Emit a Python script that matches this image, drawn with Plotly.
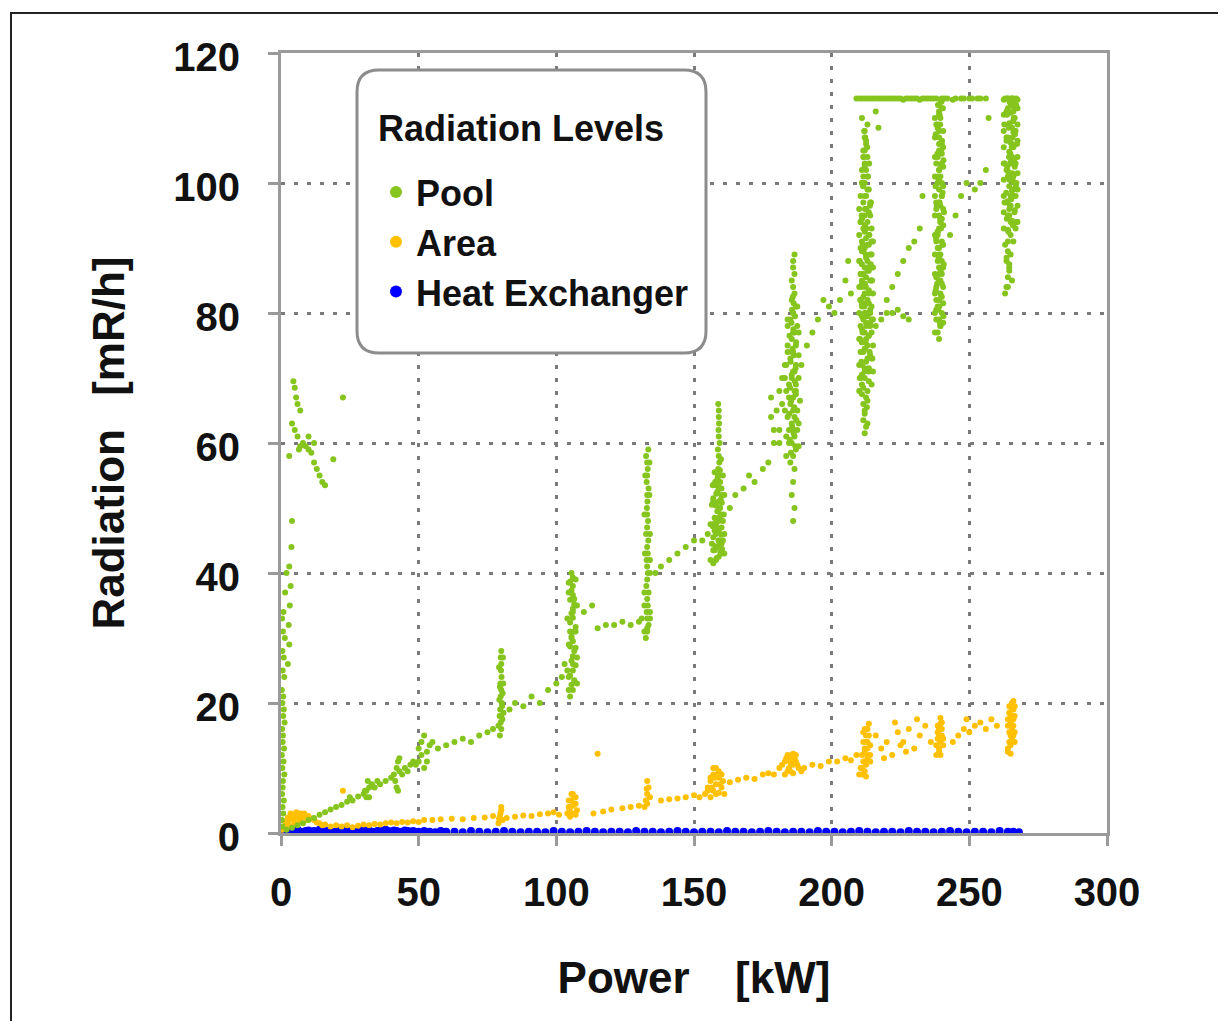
import plotly.graph_objects as go

# ---------------- data ----------------
pool_power = [
    0.5, 0.8, 1.0, 0.6, 1.2, 0.9, 1.1, 0.7, 1.3, 1.0, 0.8, 1.2, 1.0, 1.4, 0.9, 1.5, 2.0,
    2.5, 3.0, 2.8, 3.2, 3.5, 3.0, 3.8, 4.0,
    4.5, 5.0, 5.5, 6.0, 7.0, 4.0, 5.0, 6.0, 8.0, 7.0, 9.0, 10.0, 11.0, 12.0, 13.0, 14.0, 15.0,
    16.0, 12.0, 19.0, 22.5, 3.0, 6.5, 10.0,
    2, 4, 6, 8, 10, 12, 14, 16, 18, 20, 22, 24, 25, 26, 28, 30, 31, 32, 33, 32, 34, 35, 36, 38,
    40, 41, 42, 42.5, 43, 43, 42, 44, 45, 46, 47, 48, 49, 50, 50, 51, 51, 52, 52, 53, 54, 55, 53,
    31, 31.5, 30.5, 42.5, 41.5,
    57, 60, 63, 66, 69, 72, 75, 77,
    79.5, 80, 79.8, 80, 79.6, 80.2, 79.8, 80, 79.7, 80.1, 79.9, 80, 79.8, 80, 80.3, 79.5, 80.4,
    83, 85, 88, 91, 94, 97, 100, 102, 103,
    105, 106, 105.5, 106.5, 105, 106, 107, 105.5, 106, 106.5, 105, 106, 105.5, 106.5, 107, 105,
    106, 105.5, 106, 106.5, 105, 106, 105.5, 106, 105, 106, 105.5, 106, 105.5, 106,
    110, 113, 115, 118, 121, 124, 127, 130, 131,
    132.5, 133, 133.5, 133, 132.8, 133.2, 133, 133.5, 132.7, 133, 133.3, 133, 132.8, 133.2, 133,
    133.4, 132.6, 133, 133.3, 133, 132.9, 133.1, 133, 133.5, 132.8, 133, 133.2, 133, 132.6, 133.4,
    134, 133,
    136, 138, 141, 144, 147, 150, 153, 155,
    157, 158, 159, 160, 157.5, 158.5, 159.5, 160.5, 157, 158, 159, 160, 158, 159, 157.5, 160,
    158.5, 159.5, 158, 159, 157, 160, 158.5, 159, 158, 159.5, 158.5, 159, 158.8, 159.2, 159,
    158.7, 159.3, 159, 158.9, 159.1, 159, 159, 158.8, 159.2,
    163, 165, 168, 170, 172, 175, 177, 179, 181, 178, 182, 183,
    179, 180, 181, 182, 183, 178, 184, 181,
    186, 186.5, 185.5, 186, 186.5, 185, 186, 187, 185.5, 186.5, 184.5, 185.5, 186.5, 187.5, 185,
    186, 187, 184.5, 185.5, 186.5, 187, 185, 186, 187, 185.5, 186.5, 184, 185, 186, 187, 185.5,
    186.5, 186, 185.5, 186.5, 186, 186, 186.5, 186, 186, 186.5, 186, 185.5, 186, 186,
    189, 191, 193, 195, 197, 199, 201, 203, 205, 207, 206,
    212, 213, 212, 211.5, 212.5, 213, 211, 212, 213.5, 212, 211, 212.5, 213, 214, 211.5, 212,
    213, 211, 212.5, 213.5, 212, 211, 214, 212.5, 211.5, 213, 212, 214, 211, 212.5, 213, 211.5,
    212, 213.5, 211, 212, 214, 212.5, 211.5, 213, 212, 211, 213, 212.5, 214, 211.5, 212, 213,
    211, 212.5, 213.5, 212, 211.5, 213, 212, 212.5, 211.5, 212, 213, 212, 211.5, 212.5, 212, 211.5,
    212, 212.5, 212, 212, 214, 211,
    209, 211, 213, 215, 217, 219, 221, 223, 226, 229, 232, 235, 238, 241, 244, 247, 250, 253, 256,
    211, 213, 216, 217,
    216, 218, 220, 222, 224, 226, 228, 220, 222, 224, 226, 228, 230, 232, 233,
    239, 238.5, 239.5, 239, 240, 238.5, 239, 239.5, 238, 239, 240, 239, 238.5, 239.5, 239, 240,
    238.5, 239, 239.5, 239, 238, 239, 240, 239, 238.5, 239.5, 239, 240, 238.5, 239, 239.5, 239,
    239, 238.5, 239.5, 239, 239, 239.5, 238, 240, 239, 238.5, 239.5, 239, 240, 238.5, 239, 239.5,
    239, 238.5, 240, 239, 238, 239.5, 239,
    243, 245, 247, 249, 252, 254, 256, 257,
    265, 264, 266, 265.5, 264.5, 266.5, 265, 264, 266, 265.5, 264.5, 266, 265, 264, 266.5, 265,
    265.5, 264.5, 266, 265, 264, 266, 265.5, 264.5, 266.5, 265, 264, 266, 265.5, 265, 264.5, 266,
    265, 265.5, 264.5, 266, 265, 264, 266.5, 265, 263, 263.5, 264, 264.5, 263.5, 264, 263, 264.5,
    264, 263.5,
]
pool_rad = [
    1, 3, 5, 7, 9, 11, 13, 15, 17, 19, 21, 24, 27, 30, 34, 37, 40,
    26, 29, 32, 35, 38, 41, 44, 48,
    69.5, 68.5, 67, 66, 65, 63, 62, 61, 60, 59.5, 59.5, 59, 58.5, 57, 56, 55, 54,
    53.5, 60, 57.5, 67, 58, 59, 61,
    0.5, 0.8, 1.2, 1.5, 2, 2.3, 2.8, 3.2, 3.6, 4, 4.3, 4.8, 5.5, 5, 5.6, 6, 6.5, 7, 7.5, 5.5, 7, 8, 7.5, 8,
    8.5, 9, 10, 11, 11.5, 9.5, 7, 9, 10, 9.5, 10.5, 11, 10.5, 11, 13, 12, 14, 15, 10, 12.5, 13.5, 14, 11,
    5.5, 8, 6.5, 6.5, 8,
    13, 13.5, 14, 14.5, 14, 15, 15.5, 16,
    15, 16, 17, 18, 19, 20, 21, 22, 23, 24, 25, 26, 27, 28, 19.5, 22.5, 17.5,
    19, 20, 19.5, 21, 20, 22, 23, 24, 26,
    21, 22, 22.8, 23.5, 24.2, 25, 25.8, 26.5, 27.2, 28, 28.7, 29.5, 30.2, 31, 31.7, 32.4,
    33.1, 33.8, 34.5, 35.2, 35.9, 36.6, 37.3, 38, 38.7, 39.3, 40, 26, 30, 34,
    34, 35, 31.5, 32, 32, 32.5, 32, 32.5, 33,
    30, 31, 32, 33, 34, 35, 36, 37, 38, 39, 40, 41, 42, 43, 44,
    45, 46, 47, 48, 49, 50, 51, 52, 53, 54, 55, 56, 57, 58, 59,
    33, 31.5,
    40, 41, 42, 43, 44, 45, 45, 46,
    41.5, 42, 42.5, 43, 43.5, 44, 44.5, 45, 45.5, 46, 46.5, 47, 47.5, 48, 48.5, 49,
    49.5, 50, 50.5, 51, 51.5, 52, 52.5, 53, 53.5, 54, 54.5, 55, 56, 57, 58,
    59, 60, 61, 62, 63, 64, 65, 66, 45,
    50, 52, 53, 55, 54, 56, 57, 60, 62, 64, 66, 70,
    62, 65, 68, 70, 72, 67, 64, 60,
    48, 50, 52, 54, 56, 57, 58, 59, 60, 61, 62, 63, 64, 65, 66,
    67, 68, 69, 70, 71, 72, 73, 74, 75, 76, 77, 78, 79, 80, 81, 82,
    83, 84, 85, 86, 87, 88, 89, 62, 65, 68, 71, 74, 77, 80,
    72, 75, 77, 79, 82, 81, 80, 82, 85, 83, 88,
    61.5, 63, 64.5, 66, 67, 68, 69, 70, 71, 71.5, 72, 72.5, 73, 73.5, 74, 74.5,
    75, 75.5, 76, 76.5, 77, 77.5, 78, 78.5, 79, 79.5, 80, 80.5, 81, 81.5, 82, 82.5,
    83, 83.5, 84, 84.5, 85, 85.5, 86, 86.5, 87, 87.5, 88, 88.5, 89, 89.5, 90, 90.5,
    91, 91.5, 92, 92.5, 93, 94, 95, 96, 97, 98, 99, 100, 101, 102, 103, 104,
    105, 106, 107, 108, 80, 85,
    113, 113, 113, 113, 113, 113, 113, 113, 112.8, 113, 112.8, 113, 113, 113, 112.8, 113, 113, 113, 113,
    110, 109, 111, 108.5,
    78, 79, 80, 80, 80.5, 79.5, 79, 82, 84, 86, 88, 90, 91, 93, 98,
    76, 77, 78, 79, 80, 81, 82, 83, 84, 85, 86, 87, 88, 89, 90, 91,
    92, 93, 94, 95, 96, 97, 98, 99, 100, 101, 102, 103, 104, 105, 106, 107,
    108, 109, 110, 111, 112, 112.8, 80.5, 84.5, 88.5, 92.5, 96.5, 100.5, 104.5, 108.5,
    86, 94, 102, 90, 98, 106, 82, 78, 110.5,
    92, 95, 98, 100, 99, 100, 102, 110,
    92, 92.8, 93.5, 94.2, 95, 95.8, 96.5, 97.2, 98, 98.8, 99.5, 100.2, 101, 101.8, 102.5, 103.2,
    104, 104.8, 105.5, 106.2, 107, 107.8, 108.5, 109.2, 110, 110.8, 111.5, 112.2, 113, 112.5, 96, 99,
    103, 106, 109, 111, 94, 101, 108, 112, 83, 84, 85.5, 87, 88, 89.5, 90.5, 86.5,
    91, 88.5,
]

# extra points that thicken the dense vertical streaks of the Pool series
pool_dense_power = [
    0.3, 0.6, 0.4, 0.7, 0.5, 0.3, 0.6, 0.4, 0.8, 0.5, 0.3, 0.6, 0.5, 0.7, 0.4,
    79, 80.8, 79.3, 80.7, 79.2, 80.6, 79.4, 80.5,
    104.5, 107.5, 104, 107.5, 104.5, 107, 104, 107.5, 104.5, 107, 104.5, 107, 105, 106.5, 104.5,
    132, 134, 132, 134, 132.2, 134, 132, 133.8, 132.3, 133.8, 132, 134,
    156, 161, 156.5, 161, 156, 160.8, 156.5, 161, 156.8, 160.5, 157, 160, 157.5, 160.5, 157, 160,
    157.5, 159.8,
    183.5, 188, 183.5, 188, 183, 188.5, 183.5, 188, 183.5, 188, 184, 188, 184, 187.5, 184.5, 187.5,
    184.5, 187, 184, 187.5,
    210, 214.5, 210.5, 215, 210, 214.5, 210.5, 215, 210, 214.5, 210.5, 215, 210, 214.5, 210.5, 215,
    210, 214.5, 210.5, 215, 210, 214.5, 210.5, 215, 210, 214.5, 210.5, 214, 210, 214, 210.5, 213.5,
    211, 213, 211, 213, 211.5, 212.5, 211, 213.5, 211, 213.5, 211, 213.5, 211, 213.5, 211, 213.5,
    211, 213.5, 212, 212.5, 211.5, 213,
    210, 212, 214, 216, 218, 220, 222, 224, 225, 227, 228, 230, 231, 233, 234, 236, 237, 240, 242,
    245, 248, 251, 254,
    237.5, 240.5, 237.5, 240.5, 237.5, 240.5, 237.5, 240.5, 237.5, 240.5, 237.5, 240.5, 237.5, 240.5,
    237.5, 240.5, 237.5, 240.5, 237.5, 240.5, 237.5, 240.5, 237.5, 240, 238, 240, 238, 240, 238, 240,
    238, 240, 238, 240, 238,
    262.5, 267.5, 262.5, 267.5, 262.5, 267.5, 262.5, 267.5, 262.5, 267.5, 262.5, 267.5, 262.5, 267.5,
    262.5, 267.5, 262.5, 267.5, 263, 264, 266, 267, 263.5, 266.8, 263.5, 266.8, 263.5, 266.8, 263.5,
    266.8, 264, 265.5, 264.5, 265, 266,
    # second fill of the heaviest streaks
    211.5, 212.8, 211, 213.5, 212, 210.8, 213.8, 212.3, 211.2, 214, 212.6, 211, 213.4, 212, 210.6,
    214.2, 212.4, 211.3, 213.7, 212.1, 210.9, 213.9, 212.5, 211.4, 213.2, 212, 211.6, 212.9, 212.2,
    211.8, 210.2, 214.8, 210.3, 214.6, 210.4, 214.7, 210.2, 214.5, 210.5, 214.3, 211, 213.6, 212.2,
    212.7, 211.9, 212.4, 212.9, 211.7, 212.6, 212.1,
    239.3, 238.7, 239.8, 238.3, 239.6, 238.9, 240.2, 238.5, 239.4, 238.2, 240.3, 238.8, 239.7, 238.4,
    240.1, 238.6, 239.2, 239.9, 240.6, 237.8, 240.7, 237.9, 240.8, 237.7, 240.6, 237.8, 240.4, 239.1,
    239.5, 238.9, 239.7, 239.2, 238.7, 239.8, 239.4, 238.6,
    264.2, 265.8, 263.6, 266.4, 264.8, 265.2, 263.4, 266.9, 264.5, 265.6, 263.8, 266.2, 264.9, 265.4,
    263.5, 266.6, 264.3, 265.9, 263.7, 266.3, 264.6, 265.1, 267.2, 262.8, 267.1, 262.9, 267.3, 262.7,
    267, 264, 265, 266, 264.4, 265.7, 266.1, 263.9,
    185.2, 186.8, 184.8, 186.2, 185.7, 187.2, 184.6, 186.4, 185.3, 187, 184.9, 186.6, 185.5, 186.9,
    185.1, 186.3, 185.8, 187.1, 184.7, 186.1, 185.4, 186.7, 185.6, 186.2, 185.9,
    158.2, 159.6, 157.8, 158.9, 159.9, 158.4, 157.6, 159.3, 158.6, 157.9, 159.7, 158.1, 159.1, 157.7,
    158.7, 159.4, 160.2, 156.8, 160.1, 157.2,
]
pool_dense_rad = [
    2, 4, 6, 8, 10, 12, 14, 16, 18, 20, 22, 25, 28, 31, 33,
    16.5, 18.5, 20.5, 23, 25.5, 27, 18, 21.5,
    22, 23, 25, 27, 29, 31, 33, 35, 37, 39, 24, 28.5, 31, 36, 38.5,
    31, 34, 37, 40, 43, 46, 49, 52, 55, 57, 35, 42,
    42, 43, 44.5, 46, 47.5, 49, 50.5, 52, 53.5, 55, 43.5, 44.5, 46.5, 48, 51, 53,
    55.5, 57.5,
    58, 59.5, 61, 63, 65, 66.5, 68, 70, 72, 73.5, 75, 77, 79, 81, 60, 62,
    67, 69, 74, 78,
    68, 69, 70, 71, 72, 73, 74, 75, 76, 77, 78, 79, 80, 81, 82, 83,
    84, 85, 86, 87, 88, 89, 90, 91, 92, 93, 94, 95, 96, 97, 98, 99,
    100, 101, 102, 104, 105, 106.5, 70.5, 71.5, 75.5, 76.5, 79.5, 81.5, 84.5, 86.5, 89.5, 90.5,
    94.5, 95.5, 65, 62.5, 68.5, 66.5,
    113, 113, 113, 113, 113, 113, 113, 113, 113, 113, 113, 113, 113, 113, 113, 113, 113, 113, 113,
    113, 113, 113, 113,
    77, 78.5, 80, 81.5, 83, 84, 86, 87, 89, 90.5, 92, 93.5, 95, 96,
    98, 99.5, 101, 102.5, 104, 105.5, 107, 108, 110, 111.5, 79, 82.5, 85.5, 88, 91, 94.5,
    97, 100, 103, 106, 109,
    93, 94, 95.5, 96.5, 98, 99, 100.5, 101.5, 103, 104, 105.5, 106.5, 108, 109,
    110.5, 111.5, 112.8, 112.8, 113, 113, 113, 113, 97, 98, 102, 103, 107, 108, 111,
    93, 84, 85, 87.5, 89, 91,
    63.5, 65.5, 67.5, 69.5, 71, 72.5, 74, 75.5, 77, 78.5, 80, 81.5, 83, 84.5, 86,
    87.5, 89, 90.5, 92, 93.5, 95, 96.5, 98, 99.5, 101, 102.5, 104, 105.5, 107,
    108, 70, 73, 76, 79, 82, 85, 88, 91, 94, 97, 100, 103, 74.5,
    78, 81, 84, 87, 90, 93, 96,
    78.5, 80.5, 82.5, 84.5, 86.5, 88.5, 90.5, 92.5, 94.5, 96.5, 98.5, 100.5, 102.5, 104.5,
    106.5, 108.5, 110.5, 112.5, 79.5, 83.5, 87.5, 91.5, 95.5, 99.5, 103.5, 107.5, 111.5, 81,
    85, 89, 93, 97, 101, 105, 109, 112,
    92.5, 93.5, 94.5, 95.5, 96.5, 97.5, 98.5, 99.5, 100.5, 101.5, 102.5, 103.5, 104.5, 105.5,
    106.5, 107.5, 108.5, 109.5, 110.5, 111.5, 112.5, 113, 94, 97, 100, 103, 106, 109,
    112, 95, 98, 101, 104, 107, 110, 113,
    58.5, 59.5, 60.5, 61.5, 62.5, 63.5, 64.5, 65.5, 66.5, 67.5, 68.5, 69.5, 70.5, 71.5,
    72.5, 73.5, 74.5, 75.5, 76.5, 77.5, 78.5, 79.5, 80.5, 81.5, 82.5,
    42.3, 43.2, 44.1, 45, 45.9, 46.8, 47.7, 48.6, 49.5, 50.4, 51.3, 52.2, 53.1, 54,
    54.9, 55.8, 43.7, 47.2, 50.8, 53.6,
]

area_power = [
    0.5, 1, 2, 3, 4, 5, 6, 7, 8, 9, 10, 11, 12, 13, 14, 15, 16, 18, 20, 22, 24, 26, 28, 30,
    32, 34, 36, 38, 40, 42, 44, 46, 48, 50, 52, 22.5,
    55, 58, 62, 66, 70, 74, 77,
    79, 79.5, 80, 80, 79.7,
    82, 85, 88, 91, 94, 97, 99, 101,
    104, 105, 105.5, 106, 106.5, 107, 107.5, 105, 106, 104.5, 106, 107,
    113.5, 117, 120, 124, 127, 130, 115,
    132, 132.5, 133, 133.5, 133, 134, 133, 132.8,
    138, 141, 144, 147, 150,
    152, 154, 155, 156, 157, 158, 159, 160, 161, 157, 158, 156, 159, 160,
    163, 166, 169, 172, 175, 177,
    179, 181, 183, 184, 185, 186, 187, 188, 185, 183, 186, 189,
    190, 193, 196, 199, 202, 205, 207, 209,
    210, 211, 212, 213, 212, 213, 212.5, 213, 213.5, 211, 214, 212, 214, 211.5,
    216, 218, 220, 222, 224, 226, 228, 230, 232, 234, 236, 219, 223, 227, 231, 225,
    238, 239, 239.5, 240, 239, 240, 239.5, 238.5, 240.5, 239,
    244, 246, 248, 250, 252, 254, 256, 258, 260, 249,
    264, 264.5, 265, 265.5, 265, 266, 265.5, 266, 264, 266.5, 265, 266, 264.5, 265.5, 266.5,
]
area_rad = [
    0.5, 1, 1.5, 2, 2.5, 2.8, 2.6, 3, 2.8, 2.5, 2.6, 2.2, 2, 1.6, 1.5, 1.2, 1.3, 1.0, 1.2, 1, 1.2, 0.9, 1.1, 1.3,
    1.2, 1.4, 1.3, 1.5, 1.6, 1.5, 1.7, 1.6, 1.8, 1.7, 2, 6.5,
    2, 2.1, 2.2, 2.1, 2.3, 2.4, 2.6,
    1.5, 2.5, 3.5, 4, 3,
    2.3, 2.5, 2.7, 2.6, 2.9, 3, 3.2, 2.8,
    3, 4, 5, 6, 5.5, 4.5, 3.5, 2.5, 3, 5, 4.2, 2.8,
    3, 3.3, 3.6, 3.8, 4, 4.2, 12.2,
    4, 5, 6, 7, 8, 5.5, 4.5, 6.8,
    5, 5.2, 5.3, 5.5, 5.8,
    5.5, 6, 7, 8, 9, 10, 8.5, 7, 6, 6.5, 7.5, 5.5, 6.2, 9,
    7.8, 8.2, 8.5, 8.3, 9, 9.2,
    9, 10, 11, 12, 11.5, 10.5, 11, 10, 9.5, 9, 12.2, 9.5,
    10, 10.5, 10.3, 11, 11, 11.5, 11.2, 12,
    9, 10, 11, 12, 13, 14, 15, 16, 16.8, 12, 11, 9.5, 13.5, 14,
    15, 13, 14, 12, 15.5, 14, 16, 13, 15, 16.5, 14, 11.5, 17, 12.5, 17.5, 13.5,
    12, 13, 14, 15, 16, 17, 17.7, 14.5, 13.5, 12.5,
    14, 15, 16, 15.5, 16.5, 17, 16, 17.5, 16.5, 17.5,
    12.5, 14, 15, 16, 17, 18, 19, 20.3, 16.5, 15.5, 13.5, 17.5, 18.5, 14.5, 19.5,
]

# extra points that fill the Area blobs
area_dense_power = [
    1.5, 2.5, 3.5, 4.5, 5.5, 6.5, 7.5, 8.5, 9.5, 3, 5, 7,
    80.5, 79.2,
    104.5, 105.5, 106.5, 107, 105.5, 104.8,
    155, 156.5, 157.5, 158.5, 159.5, 160.5, 157, 158, 156, 159,
    182, 183.5, 184.5, 185.5, 186.5, 187.5, 184, 186, 185, 187,
    210.5, 211.5, 212, 213, 212.5, 213.5, 212, 211, 214, 212.5, 213, 211.5, 212.5,
    238, 239, 240, 238.5, 240.5, 239.5, 238.5, 239.5,
    264, 265, 266, 264.5, 266, 265, 264.5, 266.5, 265.5, 264, 266.5, 265, 265.5, 266,
]
area_dense_rad = [
    1.8, 2.4, 3, 2.2, 3.2, 2.2, 2.4, 3, 2, 1.2, 1.5, 1.8,
    2, 2.2,
    4, 3, 4.5, 5.5, 6, 3.5,
    6.5, 7, 8.5, 9, 7.5, 8, 10, 6, 8.5, 9.5,
    10.5, 11.5, 10, 12, 11.5, 10.5, 9.5, 9.2, 10.8, 12,
    10, 11, 12.5, 13, 14, 15, 16, 9, 12, 10.5, 11.5, 15.5, 8.7,
    13.5, 15, 16, 16.5, 14.5, 12, 15.5, 16.8,
    13, 14, 15, 15.5, 16.5, 18, 19.5, 18, 20, 17.5, 14, 12.2, 16.5, 19,
]

hx_power = [
    0, 1, 2, 3, 4, 5, 6, 7, 8, 9, 10, 11, 12, 13, 14, 15, 16, 17, 18, 19, 20, 21, 22, 23, 24,
    25, 26, 27, 28, 29, 30, 31, 32, 33, 34, 35, 36, 37, 38, 39, 40, 41, 42, 43, 44, 45, 46, 47,
    48, 49, 50, 52, 54, 56, 58, 60, 63, 66, 69, 72, 75, 78, 81, 84, 87, 90, 93, 96, 99, 102,
    105, 108, 111, 114, 117, 120, 123, 126, 129, 132, 135, 138, 141, 144, 147, 150, 153, 156,
    159, 162, 165, 168, 171, 174, 177, 180, 183, 186, 189, 192, 195, 198, 201, 204, 207, 210,
    213, 216, 219, 222, 225, 228, 231, 234, 237, 240, 243, 246, 249, 252, 255, 258, 261, 264,
    266, 268,
]
hx_rad = [
    0.2, 0.3, 0.1, 0.4, 0.2, 0.3, 0.5, 0.2, 0.1, 0.3, 0.4, 0.2, 0.3, 0.1, 0.5, 0.3, 0.2, 0.4, 0.3, 0.1, 0.2, 0.4, 0.3, 0.5, 0.2,
    0.3, 0.4, 0.1, 0.3, 0.2, 0.5, 0.3, 0.4, 0.2, 0.1, 0.3, 0.4, 0.2, 0.5, 0.3, 0.2, 0.4, 0.3, 0.1, 0.2, 0.4, 0.3, 0.2,
    0.3, 0.1, 0.2, 0.3, 0.2, 0.1, 0.3, 0.2, 0.2, 0.1, 0.3, 0.2, 0.1, 0.2, 0.3, 0.2, 0.1, 0.2, 0.2, 0.1, 0.3, 0.2,
    0.1, 0.2, 0.3, 0.2, 0.1, 0.2, 0.2, 0.1, 0.3, 0.2, 0.2, 0.1, 0.2, 0.3, 0.2, 0.1, 0.2, 0.2,
    0.1, 0.3, 0.2, 0.2, 0.1, 0.2, 0.3, 0.2, 0.1, 0.2, 0.2, 0.1, 0.3, 0.2, 0.2, 0.1, 0.2, 0.3,
    0.2, 0.1, 0.2, 0.2, 0.1, 0.3, 0.2, 0.2, 0.1, 0.2, 0.3, 0.2, 0.1, 0.2, 0.2, 0.1, 0.3, 0.2,
    0.2, 0.1,
]

x_ticks = [0, 50, 100, 150, 200, 250, 300]
y_ticks = [0, 20, 40, 60, 80, 100, 120]

FONT = "Liberation Sans, Arial, sans-serif"
GREEN = "#86C41E"
ORANGE = "#FFC000"
BLUE = "#0000FF"

fig = go.Figure()
fig.add_trace(go.Scatter(x=hx_power, y=hx_rad, mode="markers", name="Heat Exchanger",
                         marker=dict(color=BLUE, size=8, line=dict(width=0)), legendrank=3))
fig.add_trace(go.Scatter(x=area_power + area_dense_power, y=area_rad + area_dense_rad,
                         mode="markers", name="Area",
                         marker=dict(color=ORANGE, size=6, line=dict(width=0)), legendrank=2))
fig.add_trace(go.Scatter(x=pool_power + pool_dense_power, y=pool_rad + pool_dense_rad,
                         mode="markers", name="Pool",
                         marker=dict(color=GREEN, size=6, line=dict(width=0)), legendrank=1))

# target plot area in screen pixels (page has an 8px body margin)
OFF = 8
L, R, T, B = 281, 1107, 53, 833
W, H = 1226 - OFF, 1021 - OFF
pw, ph = R - L, B - T


def px(xp):
    return (xp - L) / pw


def py(yp):
    return (B - yp) / ph


# rounded legend box
xl, xr, yt, yb = px(357), px(706), py(70), py(353)
rx, ry = 22 / pw, 22 / ph
path = (f"M {xl+rx},{yt} L {xr-rx},{yt} Q {xr},{yt} {xr},{yt-ry} L {xr},{yb+ry} "
        f"Q {xr},{yb} {xr-rx},{yb} L {xl+rx},{yb} Q {xl},{yb} {xl},{yb+ry} "
        f"L {xl},{yt-ry} Q {xl},{yt} {xl+rx},{yt} Z")

shapes = [
    dict(type="path", xref="paper", yref="paper", path=path, fillcolor="white",
         line=dict(color="#8C8C8C", width=3), layer="above"),
    dict(type="rect", xref="paper", yref="paper", x0=px(11), x1=px(1260), y0=py(1060), y1=py(13),
         line=dict(color="#222222", width=2), layer="above", fillcolor="rgba(0,0,0,0)"),
]

fig.update_layout(
    width=W, height=H,
    margin=dict(l=L - OFF, r=W + OFF - R, t=T - OFF, b=H + OFF - B),
    paper_bgcolor="white", plot_bgcolor="white",
    font=dict(family=FONT, color="#111111"),
    shapes=shapes,
    annotations=[dict(text="Radiation Levels", xref="paper", yref="paper",
                      x=px(376), y=py(128), xanchor="left", yanchor="middle", showarrow=False,
                      font=dict(size=36, weight="bold", family=FONT, color="#111111"))],
    legend=dict(
        x=px(376), y=py(162), xanchor="left", yanchor="top",
        bgcolor="rgba(0,0,0,0)", borderwidth=0,
        font=dict(size=36, weight="bold", family=FONT),
        itemsizing="constant",
        traceorder="normal",
    ),
)

fig.update_xaxes(
    range=[0, 300], tickvals=x_ticks, ticktext=[str(v) for v in x_ticks],
    showline=True, mirror=True, linecolor="#9A9A9A", linewidth=3,
    ticks="outside", ticklen=10, tickwidth=3, tickcolor="#9A9A9A",
    showgrid=True, gridcolor="#7A7A7A", gridwidth=3, griddash="4px,9px",
    zeroline=False,
    tickfont=dict(size=40, weight="bold", family=FONT, color="#111111"),
    ticklabelstandoff=12,
    title=dict(text="Power\u00a0\u00a0\u00a0\u2009[kW]", font=dict(size=44, weight="bold", family=FONT),
               standoff=50),
)
fig.update_yaxes(
    range=[0, 120], tickvals=y_ticks, ticktext=[str(v) for v in y_ticks],
    showline=True, mirror=True, linecolor="#9A9A9A", linewidth=3,
    ticks="outside", ticklen=10, tickwidth=3, tickcolor="#9A9A9A",
    showgrid=True, gridcolor="#7A7A7A", gridwidth=3, griddash="4px,9px",
    zeroline=False,
    tickfont=dict(size=40, weight="bold", family=FONT, color="#111111"),
    ticklabelstandoff=20, ticklabelshift=4,
    title=dict(text="Radiation\u00a0\u00a0\u2009[mR/h]", font=dict(size=44, weight="bold", family=FONT),
               standoff=35),
)

fig.write_html("out.html")
